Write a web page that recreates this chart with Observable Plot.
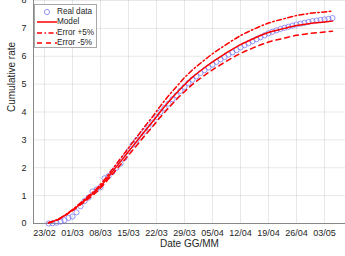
<!DOCTYPE html>
<html><head><meta charset="utf-8">
<script src="https://cdn.jsdelivr.net/npm/d3@7"></script>
<script src="https://cdn.jsdelivr.net/npm/@observablehq/plot@0.6"></script>
<style>
body{margin:0;background:#fff;font-family:"Liberation Sans",Arial,sans-serif}
#wrap{position:relative;width:345px;height:256px;overflow:hidden}
#legend{position:absolute;left:34px;top:4px;width:63px;height:44px;border:1px solid #a8a8a8;background:#fff;box-sizing:border-box;font-size:8.2px;color:#262626}
#legend .row{position:absolute;left:0;height:10px;line-height:10px;white-space:nowrap}
#legend svg{position:absolute;left:1px;top:0}
#legend span{position:absolute;left:22px;top:0}
</style></head><body><div id="wrap"><div id="legend"></div></div>
<script>
// day offsets counted from 23/02/2020
const startDay = Date.UTC(2020, 1, 23);
const realDays = [1,2,3,4,5,6,7,8,9,10,11,12,13,14,15,16,17,18,19,20,21,22,23,24,25,26,27,28,29,30,31,32,33,34,35,36,37,38,39,40,41,42,43,44,45,46,47,48,49,50,51,52,53,54,55,56,57,58,59,60,61,62,63,64,65,66,67,68,69,70,71,72];
const realValues = [0.00,0.01,0.03,0.07,0.12,0.20,0.25,0.40,0.62,0.80,0.93,1.15,1.22,1.30,1.62,1.70,1.85,2.00,2.15,2.35,2.60,2.82,2.98,3.12,3.30,3.45,3.62,3.82,4.00,4.15,4.30,4.46,4.60,4.76,4.90,5.04,5.16,5.28,5.40,5.50,5.60,5.70,5.80,5.89,5.97,6.06,6.14,6.22,6.32,6.40,6.47,6.54,6.61,6.68,6.75,6.82,6.88,6.93,6.98,7.02,7.06,7.10,7.14,7.17,7.20,7.23,7.26,7.28,7.30,7.32,7.34,7.37];
const modelDays = [1,3,5,7,9,11,13,15,17,19,21,23,25,27,29,31,33,35,37,39,42,45,49,52,56,60,63,66,70,72];
const modelValues = [0.03,0.12,0.28,0.48,0.70,0.94,1.19,1.50,1.86,2.22,2.58,2.94,3.30,3.65,4.02,4.36,4.68,4.98,5.25,5.48,5.80,6.08,6.42,6.62,6.85,7.00,7.10,7.17,7.23,7.26];
const errPlusValues = [0.03,0.13,0.29,0.50,0.74,0.99,1.25,1.58,1.95,2.33,2.71,3.09,3.47,3.83,4.22,4.58,4.91,5.23,5.51,5.75,6.09,6.38,6.74,6.95,7.19,7.35,7.46,7.53,7.59,7.62];
const errMinusValues = [0.03,0.11,0.27,0.46,0.67,0.89,1.13,1.43,1.77,2.11,2.45,2.79,3.14,3.47,3.82,4.14,4.45,4.73,4.99,5.21,5.51,5.78,6.10,6.29,6.51,6.65,6.75,6.81,6.87,6.90];
const tickDays = [0,7,14,21,28,35,42,49,56,63,70];
const tickLabels = ["23/02","01/03","08/03","15/03","22/03","29/03","05/04","12/04","19/04","26/04","03/05"];
const yTicks = [0,1,2,3,4,5,6,7,8];

const toDate = d => new Date(startDay + d * 864e5);
const real = realDays.map((d, i) => ({date: toDate(d), v: realValues[i]}));
const model = modelDays.map((d, i) => ({date: toDate(d), m: modelValues[i], p: errPlusValues[i], n: errMinusValues[i]}));
const tickDates = tickDays.map(toDate);

const red = "#ff0000";
const chart = Plot.plot({
  width: 345, height: 256,
  marginLeft: 33, marginRight: 0, marginTop: 0, marginBottom: 33,
  style: {fontFamily: "'Liberation Sans', Arial, sans-serif", fontSize: "9px", color: "#262626", background: "white", overflow: "visible"},
  x: {type: "utc", domain: [toDate(-2.75), toDate(75.25)]},
  y: {domain: [0, 8]},
  marks: [
    Plot.gridX(tickDates, {stroke: "#000", strokeOpacity: 0.09}),
    Plot.gridY(yTicks, {stroke: "#000", strokeOpacity: 0.09}),
    Plot.ruleY([0], {stroke: "#888"}),
    Plot.ruleX([toDate(-2.75)], {stroke: "#888"}),
    Plot.axisX(tickDates, {tickSize: 0, tickPadding: 6, tickFormat: (d, i) => tickLabels[i], label: null, fontSize: 9}),
    Plot.axisY(yTicks, {tickSize: 0, tickPadding: 7, label: null, fontSize: 9}),
    Plot.text(["Date GG/MM"], {frameAnchor: "bottom", dy: 23, fontSize: 10, fill: "#262626"}),
    Plot.text(["Cumulative rate"], {frameAnchor: "left", dx: -22, rotate: -90, fontSize: 10, fill: "#262626"}),
    Plot.dot(real, {x: "date", y: "v", r: 2.6, stroke: "#7a7af5", strokeWidth: 0.8, fill: "none"}),
    Plot.line(model, {x: "date", y: "m", stroke: red, strokeWidth: 1.5, curve: "monotone-x"}),
    Plot.line(model, {x: "date", y: "p", stroke: red, strokeWidth: 1.5, strokeDasharray: "5,2.5,1.5,2.5", curve: "monotone-x"}),
    Plot.line(model, {x: "date", y: "n", stroke: red, strokeWidth: 1.5, strokeDasharray: "5,4", curve: "monotone-x"})
  ]
});
const wrap = document.getElementById("wrap");
wrap.insertBefore(chart, wrap.firstChild);

const legendItems = [
  {label: "Real data", kind: "dot"},
  {label: "Model", kind: "line", dash: null},
  {label: "Error +5%", kind: "line", dash: "5,2.5,1.5,2.5"},
  {label: "Error -5%", kind: "line", dash: "5,4"}
];
const legend = document.getElementById("legend");
legendItems.forEach((it, i) => {
  const row = document.createElement("div");
  row.className = "row";
  row.style.top = (1.5 + i * 10.6) + "px";
  row.style.width = "100%";
  const sw = it.kind === "dot"
    ? `<svg width="21" height="10"><circle cx="11" cy="5" r="2.6" fill="none" stroke="#7a7af5" stroke-width="0.8"/></svg>`
    : `<svg width="21" height="10"><line x1="1" x2="21" y1="5" y2="5" stroke="${red}" stroke-width="1.5" ${it.dash ? `stroke-dasharray="${it.dash}"` : ""}/></svg>`;
  row.innerHTML = sw + `<span>${it.label}</span>`;
  legend.appendChild(row);
});
</script></body></html>
